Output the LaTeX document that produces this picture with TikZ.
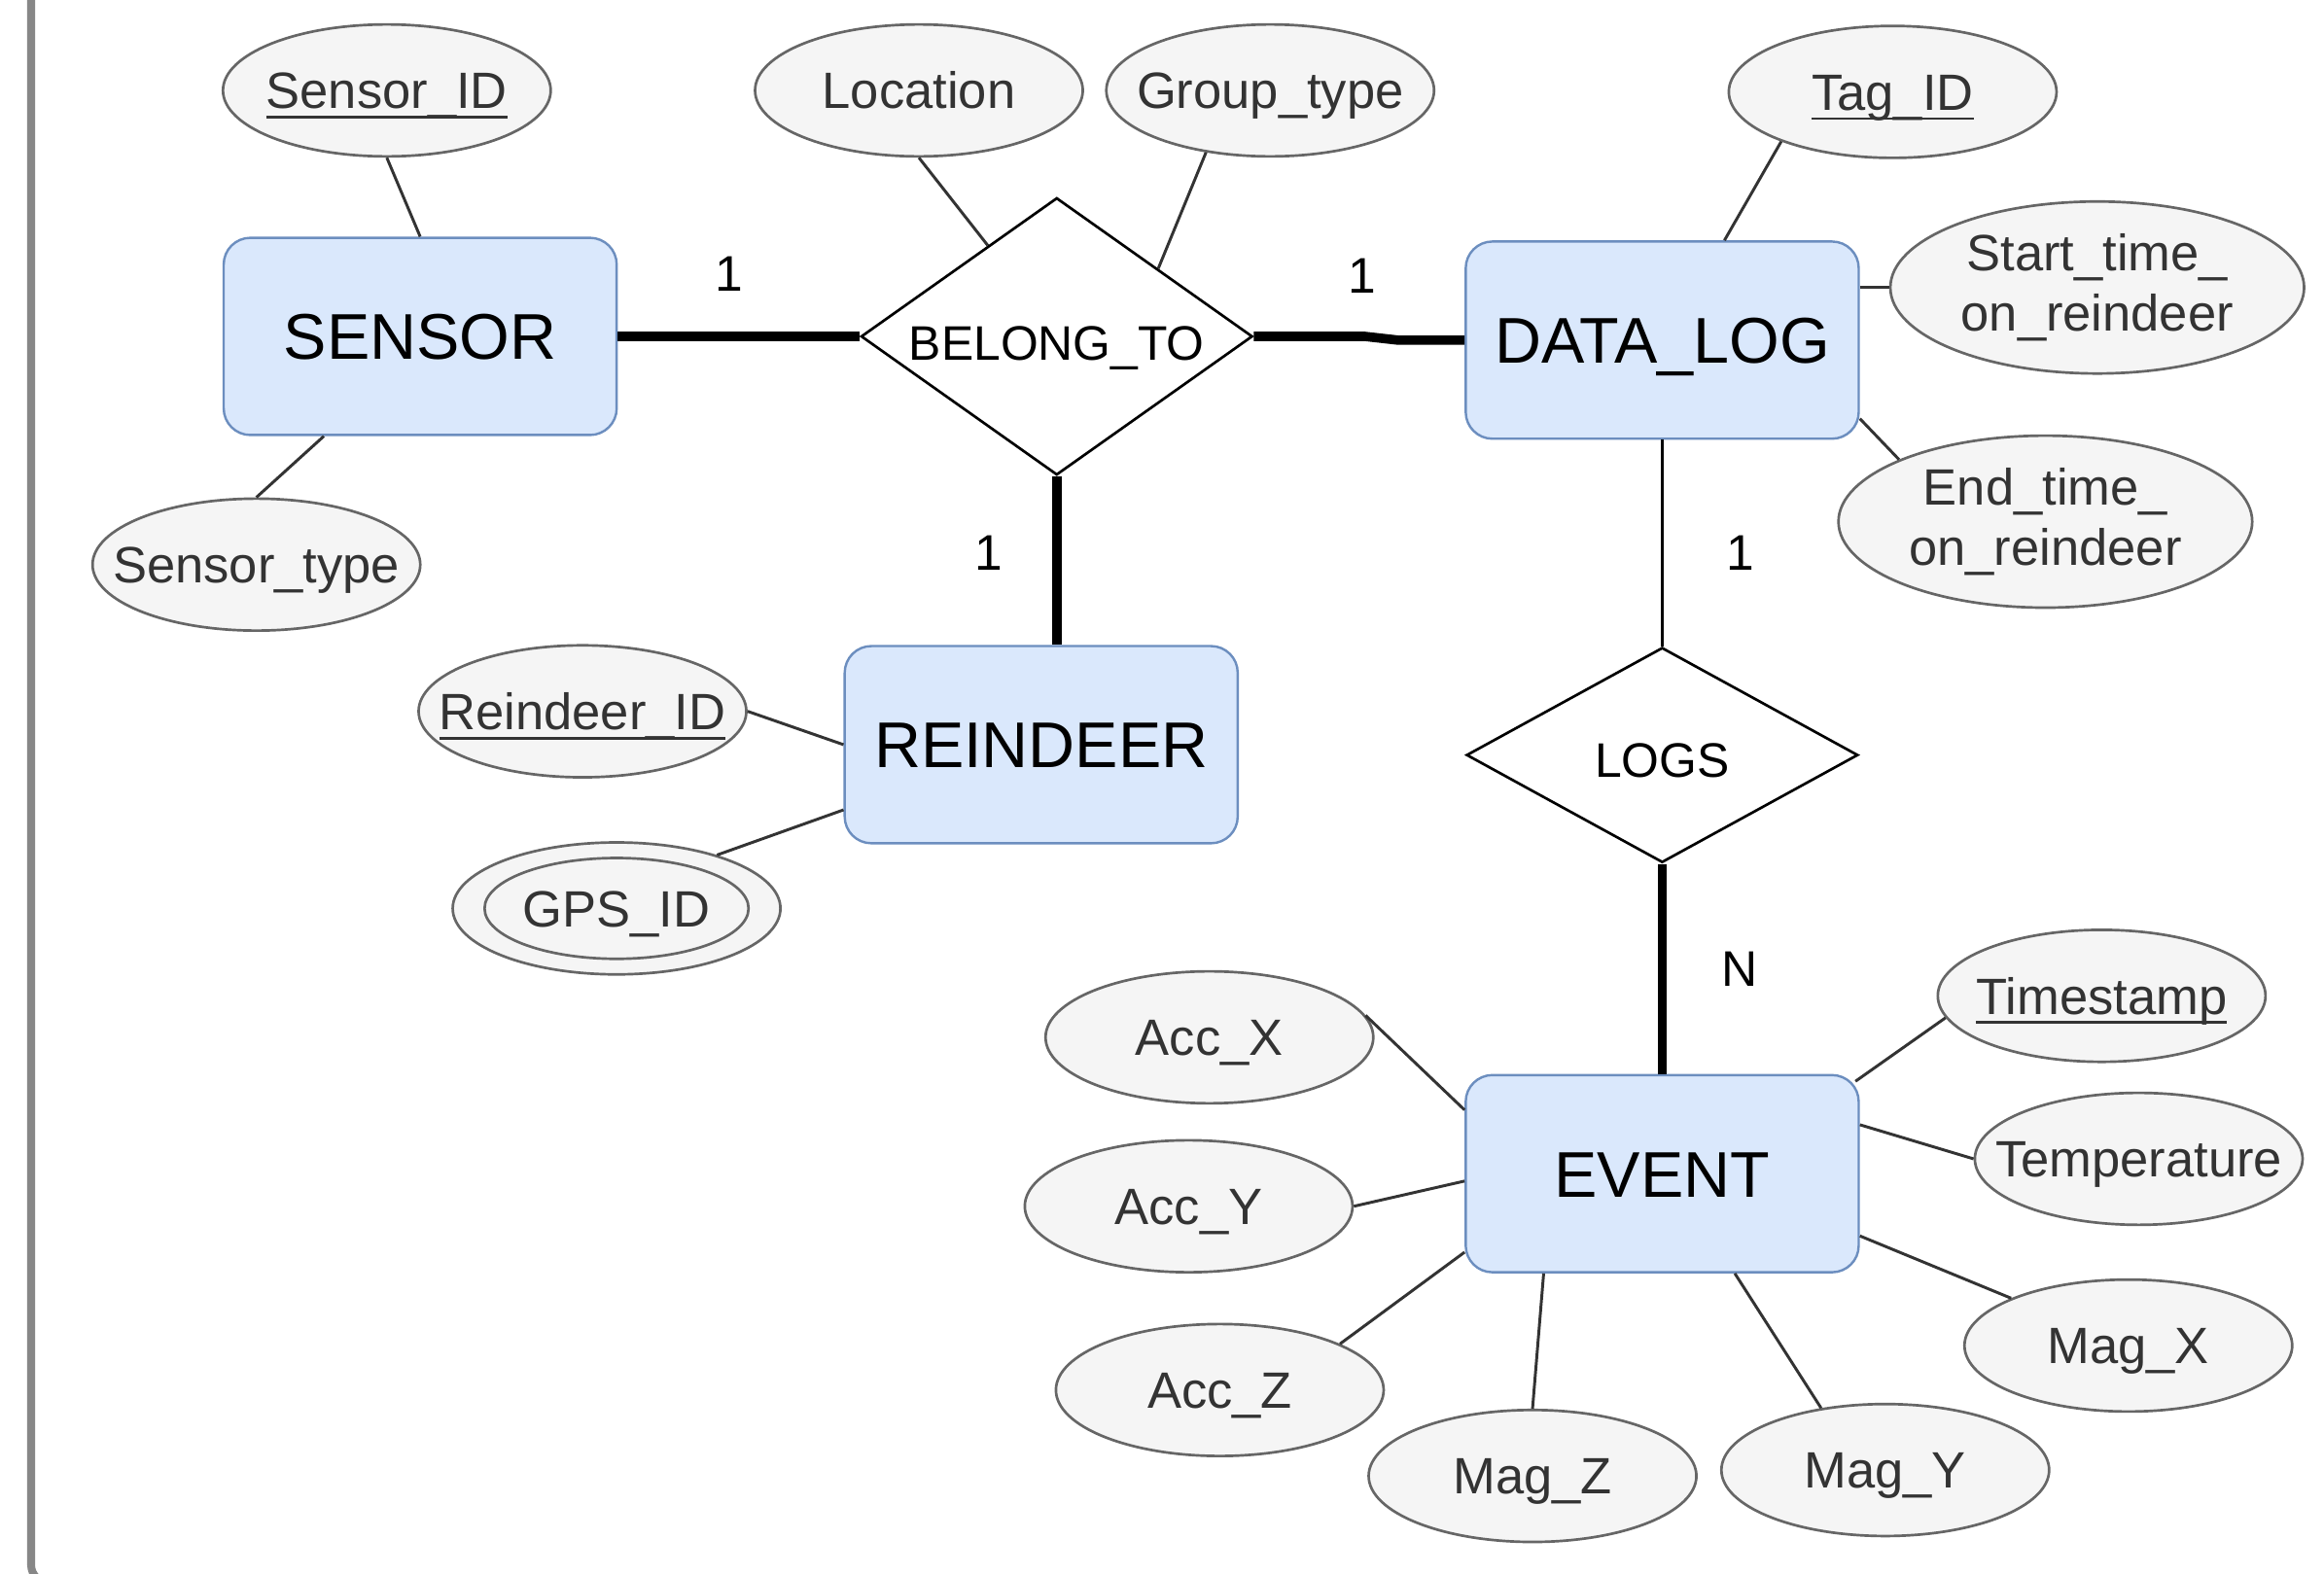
\documentclass[tikz,border=0pt]{standalone}
\usepackage{fontspec}
\setmainfont{Liberation Sans}
\usetikzlibrary{shapes.geometric,calc}

\definecolor{entfill}{HTML}{DAE8FC}
\definecolor{entdraw}{HTML}{6C8EBF}
\definecolor{attfill}{HTML}{F5F5F5}
\definecolor{attdraw}{HTML}{666666}
\definecolor{atttext}{HTML}{333333}
\definecolor{framegray}{HTML}{878787}

% underlined key attribute
\newcommand\keyattr[1]{\setbox0\hbox{#1}\rlap{\rule[-1.9pt]{\wd0}{0.55pt}}\box0}

\begin{document}
\begin{tikzpicture}[x=0.01cm, y=-0.01cm,
  entity/.style={rectangle, rounded corners=0.18cm, draw=entdraw, fill=entfill,
    line width=0.45pt, minimum width=2.65cm, minimum height=1.33cm, inner sep=0pt,
    text height=8.9pt, text depth=0pt,
    font=\fontsize{12.4}{14}\selectfont},
  attr/.style={ellipse, draw=attdraw, fill=attfill, line width=0.5pt,
    minimum width=2.21cm, minimum height=0.89cm, inner sep=0pt, text=atttext,
    text height=7pt, text depth=0pt,
    font=\fontsize{9.8}{11.6}\selectfont, align=center},
  wideattr/.style={attr, text height=, text depth=,
    minimum width=2.79cm, minimum height=1.16cm},
  rel/.style={diamond, draw=black, fill=white, line width=0.5pt, aspect=1.5,
    inner sep=0pt, minimum width=2.64cm, text height=6.7pt, text depth=0pt,
    font=\fontsize{9.3}{11}\selectfont},
  card/.style={inner sep=0pt, font=\fontsize{9.6}{11}\selectfont},
  attrline/.style={draw=black!80, line width=0.55pt},
  heavyline/.style={draw=black, line width=1.8pt},
  thinline/.style={draw=black, line width=0.6pt}]

% page and frame
\fill[white] (0,0) rectangle (1568,1062);
\begin{scope}
  \clip (0,0) rectangle (1568,1062);
  \draw[framegray, line width=1.5pt, rounded corners=0.12cm]
    (21,-20) -- (21,1068) -- (1600,1068);
\end{scope}

% entities
\node[entity] (sensor)   at (283.5,227)    {SENSOR};
\node[entity] (datalog)  at (1121.5,229.5) {DATA\_LOG};
\node[entity] (reindeer) at (702.5,502.5)  {REINDEER};
\node[entity] (event)    at (1121.5,792)   {EVENT};

% relationships
\node[rel, minimum height=1.87cm] (belong) at (713,227)      {\makebox[0pt]{\raisebox{-1.2pt}{BELONG\_TO}}};
\node[rel, minimum height=1.45cm] (logs)   at (1121.5,509.5) {\makebox[0pt]{\raisebox{-1pt}{LOGS}}};

% attributes
\node[attr] (sid)    at (261,61)   {\makebox[0pt]{\keyattr{Sensor\_ID}}};
\node[attr] (stype)  at (173,381)  {\makebox[0pt]{Sensor\_type}};
\node[attr] (loc)    at (620,61)   {\makebox[0pt]{Location}};
\node[attr] (gtype)  at (857,61)   {\makebox[0pt]{Group\_type}};
\node[attr] (tagid)  at (1277,62)  {\makebox[0pt]{\keyattr{Tag\_ID}}};
\node[wideattr] (start) at (1415,194) {Start\_time\_\\on\_reindeer};
\node[wideattr] (endt)  at (1380,352) {End\_time\_\\on\_reindeer};
\node[attr] (rid)    at (393,480)  {\makebox[0pt]{\keyattr{Reindeer\_ID}}};
\node[attr] (gps)    at (416,613)  {\makebox[0pt]{GPS\_ID}};
\draw[attdraw, line width=0.5pt] (gps.center) ellipse [x radius=0.89cm, y radius=0.34cm];
\node[attr] (accx)   at (816,700)  {\makebox[0pt]{Acc\_X}};
\node[attr] (accy)   at (802,814)  {\makebox[0pt]{Acc\_Y}};
\node[attr] (accz)   at (823,938)  {\makebox[0pt]{Acc\_Z}};
\node[attr] (magz)   at (1034,996) {\makebox[0pt]{Mag\_Z}};
\node[attr] (magy)   at (1272,992) {\makebox[0pt]{Mag\_Y}};
\node[attr] (magx)   at (1436,908) {\makebox[0pt]{Mag\_X}};
\node[attr] (temp)   at (1443,782) {\makebox[0pt]{Temperature}};
\node[attr] (tstamp) at (1418,672) {\makebox[0pt]{\keyattr{Timestamp}}};

% relationship connectors
\draw[heavyline] (sensor.east) -- (belong.west);
\draw[heavyline] (belong.east) -- ++(75,0) -- ([shift={(-45,0)}]datalog.west) -- (datalog.west);
\draw[heavyline] (belong.south) -- (belong.south |- reindeer.north);
\draw[thinline]  (datalog.south) -- (logs.north);
\draw[heavyline] (logs.south) -- (event.north);

% cardinalities
\node[card] (c1) at (492,185)  {1};
\node[card] (c2) at (919,186)  {1};
\node[card] (c3) at (667,373)  {1};
\node[card] (c4) at (1174,373) {1};
\node[card] (c5) at (1174,654) {N};

% attribute connectors
\draw[attrline] (sid.south) -- (sensor.north);
\draw[attrline] (stype.north) -- ([shift={(-65,0)}]sensor.south);
\draw[attrline] (loc.south) -- ($(belong.west)!0.65!(belong.north)$);
\draw[attrline] (gtype.224) -- ($(belong.north)!0.515!(belong.east)$);
\draw[attrline] (tagid.204) -- ([shift={(42,0)}]datalog.north);
\draw[attrline] ([shift={(0,-35.5)}]datalog.east) -- (start.west);
\draw[attrline] (endt.157) -- ([shift={(0,53)}]datalog.east);
\draw[attrline] (rid.east) -- (reindeer.west);
\draw[attrline] (gps.28) -- ([shift={(0,44)}]reindeer.west);
\draw[attrline] (accx.8) -- ([shift={(0,-43)}]event.west);
\draw[attrline] (accy.east) -- ([shift={(0,5)}]event.west);
\draw[attrline] (accz.21) -- ([shift={(0,53)}]event.west);
\draw[attrline] (magz.north) -- ([shift={(-80,0)}]event.south);
\draw[attrline] (magy.136) -- ([shift={(49,0)}]event.south);
\draw[attrline] (magx.158) -- ([shift={(0,42)}]event.east);
\draw[attrline] (temp.west) -- ([shift={(0,-33)}]event.east);
\draw[attrline] (tstamp.188) -- ([shift={(-3,5)}]event.north east);
\end{tikzpicture}
\end{document}
